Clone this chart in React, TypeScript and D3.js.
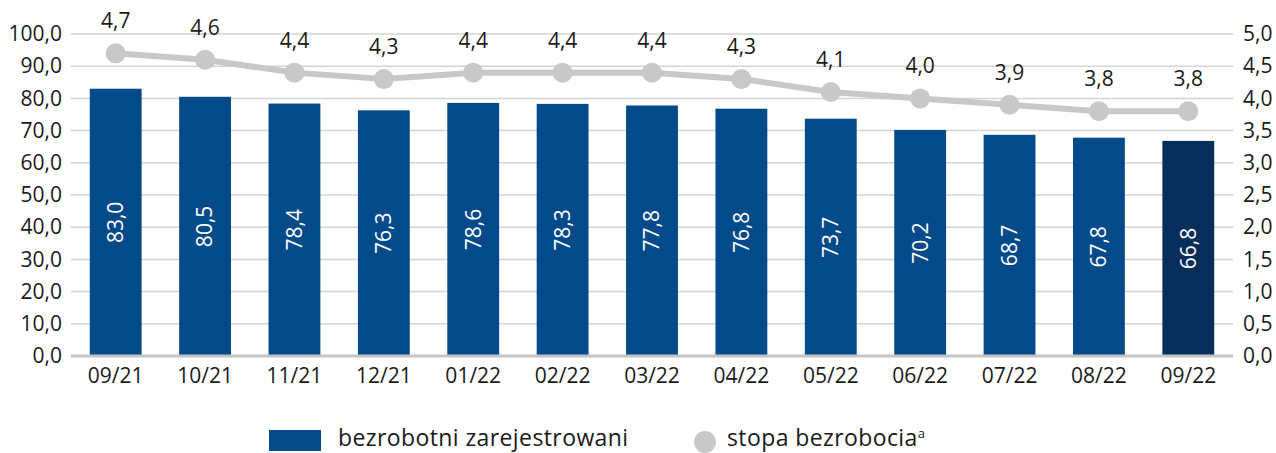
import React, { useEffect, useRef } from "react";
import * as d3 from "d3";

// chart data
const months = ["09/21", "10/21", "11/21", "12/21", "01/22", "02/22", "03/22", "04/22", "05/22", "06/22", "07/22", "08/22", "09/22"];
const registered = [83.0, 80.5, 78.4, 76.3, 78.6, 78.3, 77.8, 76.8, 73.7, 70.2, 68.7, 67.8, 66.8];
const rate = [4.7, 4.6, 4.4, 4.3, 4.4, 4.4, 4.4, 4.3, 4.1, 4.0, 3.9, 3.8, 3.8];
const leftTicks = [0, 10, 20, 30, 40, 50, 60, 70, 80, 90, 100];
const rightTicks = [0, 0.5, 1, 1.5, 2, 2.5, 3, 3.5, 4, 4.5, 5];
const legendLabels = ["bezrobotni zarejestrowani", "stopa bezrobocia"];

const App = () => {
  const svgRef = useRef<SVGSVGElement>(null);

  useEffect(() => {
    const W = 1276;
    const H = 453;
    const margin = { top: 34, right: 43, bottom: 97, left: 71 };
    const width = W - margin.left - margin.right;
    const height = H - margin.top - margin.bottom;
    const fs = 21;

    const fmt = d3.formatLocale({ decimal: ",", thousands: " ", grouping: [3], currency: ["", ""] }).format(".1f");

    const svg = d3.select(svgRef.current);
    svg.selectAll("*").remove();
    svg.attr("width", W).attr("height", H).style("font-family", "'Open Sans', sans-serif");

    const g = svg.append("g").attr("transform", `translate(${margin.left},${margin.top})`);

    const x = d3.scaleBand().domain(months).range([0, width]).paddingInner(0.42).paddingOuter(0.21);
    const yL = d3.scaleLinear().domain([0, 100]).range([height, 0]);
    const yR = d3.scaleLinear().domain([0, 5]).range([height, 0]);

    // grid
    g.append("g")
      .selectAll("line")
      .data(leftTicks.slice(1))
      .join("line")
      .attr("x1", 0)
      .attr("x2", width)
      .attr("y1", (d) => yL(d))
      .attr("y2", (d) => yL(d))
      .attr("stroke", "#d4d4d4")
      .attr("stroke-width", 1.5);

    // left axis
    const left = g.append("g").call(d3.axisLeft(yL).tickValues(leftTicks).tickFormat((d) => fmt(+d)).tickSize(0).tickPadding(9));
    left.select(".domain").remove();
    left.selectAll("text").attr("font-size", fs).attr("fill", "#1a1a1a").style("font-family", "'Open Sans', sans-serif");

    // right axis
    const right = g
      .append("g")
      .attr("transform", `translate(${width},0)`)
      .call(d3.axisRight(yR).tickValues(rightTicks).tickFormat((d) => fmt(+d)).tickSize(0).tickPadding(10));
    right.select(".domain").remove();
    right.selectAll("text").attr("font-size", fs).attr("fill", "#1a1a1a").style("font-family", "'Open Sans', sans-serif");

    // bars
    g.append("g")
      .selectAll("rect")
      .data(registered)
      .join("rect")
      .attr("x", (_, i) => x(months[i])!)
      .attr("width", x.bandwidth())
      .attr("y", (d) => yL(d))
      .attr("height", (d) => height - yL(d))
      .attr("fill", (_, i) => (i === registered.length - 1 ? "#062e5b" : "#034a8b"));

    // bar labels
    g.append("g")
      .selectAll("text")
      .data(registered)
      .join("text")
      .attr("transform", (d, i) => `translate(${x(months[i])! + x.bandwidth() / 2},${(yL(d) + height) / 2}) rotate(-90)`)
      .attr("text-anchor", "middle")
      .attr("dy", "0.35em")
      .attr("font-size", fs)
      .attr("fill", "#ffffff")
      .text((d) => fmt(d));

    // baseline
    g.append("line")
      .attr("x1", 0)
      .attr("x2", width)
      .attr("y1", height)
      .attr("y2", height)
      .attr("stroke", "#c4c4c4")
      .attr("stroke-width", 3);

    // x axis
    const bottom = g
      .append("g")
      .attr("transform", `translate(0,${height})`)
      .call(d3.axisBottom(x).tickSize(0).tickPadding(12));
    bottom.select(".domain").remove();
    bottom.selectAll("text").attr("font-size", fs).attr("fill", "#1a1a1a").style("font-family", "'Open Sans', sans-serif");

    // rate line
    const cx = (i: number) => x(months[i])! + x.bandwidth() / 2;
    const lineGen = d3
      .line<number>()
      .x((_, i) => cx(i))
      .y((d) => yR(d));

    g.append("path")
      .datum(rate)
      .attr("fill", "none")
      .attr("stroke", "#c8c8c8")
      .attr("stroke-width", 6)
      .attr("d", lineGen);

    g.append("g")
      .selectAll("circle")
      .data(rate)
      .join("circle")
      .attr("cx", (_, i) => cx(i))
      .attr("cy", (d) => yR(d))
      .attr("r", 10)
      .attr("fill", "#c8c8c8");

    g.append("g")
      .selectAll("text")
      .data(rate)
      .join("text")
      .attr("x", (_, i) => cx(i))
      .attr("y", (d) => yR(d) - 25)
      .attr("text-anchor", "middle")
      .attr("font-size", fs)
      .attr("fill", "#1a1a1a")
      .text((d) => fmt(d));

    // legend
    const lg = svg.append("g");
    lg.append("rect").attr("x", 269).attr("y", 430).attr("width", 52).attr("height", 21).attr("fill", "#034a8b");
    lg.append("text")
      .attr("x", 338)
      .attr("y", 446)
      .attr("font-size", 23)
      .attr("letter-spacing", 0.4)
      .attr("fill", "#1a1a1a")
      .text(legendLabels[0]);
    lg.append("circle").attr("cx", 705).attr("cy", 442).attr("r", 11).attr("fill", "#c8c8c8");
    const t2 = lg.append("text").attr("x", 727).attr("y", 446).attr("font-size", 23).attr("letter-spacing", 0.4).attr("fill", "#1a1a1a");
    t2.append("tspan").text(legendLabels[1]);
    t2.append("tspan").attr("font-size", 13).attr("dy", -8).text("a");
  }, []);

  return (
    <div style={{ position: "absolute", left: 0, top: 0 }}>
      <svg ref={svgRef}></svg>
    </div>
  );
};

export default App;
